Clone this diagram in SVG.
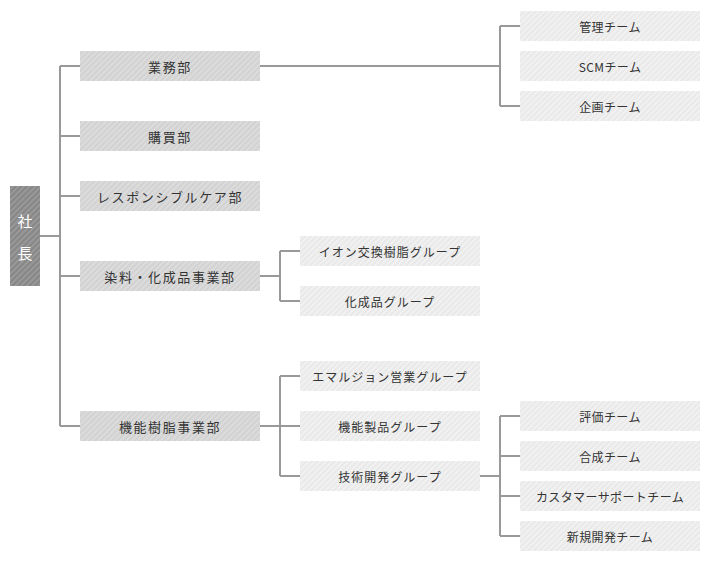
<svg xmlns="http://www.w3.org/2000/svg" width="710" height="562" viewBox="0 0 710 562">
<defs>
<pattern id="pDark" width="4" height="4" patternUnits="userSpaceOnUse" patternTransform="rotate(45)">
<rect width="4" height="4" fill="#878787"/>
<rect width="1.6" height="4" fill="#9c9c9c"/>
</pattern>
<pattern id="pMid" width="4" height="4" patternUnits="userSpaceOnUse" patternTransform="rotate(45)">
<rect width="4" height="4" fill="#d2d2d2"/>
<rect width="1.6" height="4" fill="#dedede"/>
</pattern>
<pattern id="pLight" width="4" height="4" patternUnits="userSpaceOnUse" patternTransform="rotate(45)">
<rect width="4" height="4" fill="#e9e9e9"/>
<rect width="1.6" height="4" fill="#f3f3f3"/>
</pattern>
</defs>
<style>
.conn{fill:none;stroke:#999;stroke-width:2}
.top{fill:url(#pDark)}
.l1{fill:url(#pMid)}
.l2{fill:url(#pLight)}
text{font-family:"Noto Sans CJK JP","Noto Sans",sans-serif;fill:#333;text-anchor:middle;dominant-baseline:central}
.t1{font-size:13px;letter-spacing:1.6px}
.t2{font-size:12px;letter-spacing:1px}
.t3{font-size:12px;letter-spacing:0.4px}
.tt{font-size:15px;fill:#fff}
</style>
<g id="connectors">
<path class="conn" d="M40,236H60M60,66V426M60,66H80M60,136H80M60,196H80M60,276H80M60,426H80"/>
<path class="conn" d="M260,66H500M500,26V106M500,26H520M500,106H520"/>
<path class="conn" d="M260,276H280M280,251V301M280,251H300M280,301H300"/>
<path class="conn" d="M260,426H300M280,376V476M280,376H300M280,476H300"/>
<path class="conn" d="M480,476H500M500,416V536M500,416H520M500,456H520M500,496H520M500,536H520"/>
</g>
<g id="president"><rect class="top" x="10" y="186" width="30" height="100"/><text class="tt" x="25" y="220">社</text><text class="tt" x="25" y="252">長</text></g>
<g id="gyomu"><rect class="l1" x="80" y="51" width="180" height="30"/><text class="t1" x="170" y="66">業務部</text></g>
<g id="konyu"><rect class="l1" x="80" y="121" width="180" height="30"/><text class="t1" x="170" y="136">購買部</text></g>
<g id="rc"><rect class="l1" x="80" y="181" width="180" height="30"/><text class="t1" x="170" y="196">レスポンシブルケア部</text></g>
<g id="senryo"><rect class="l1" x="80" y="261" width="180" height="30"/><text class="t1" x="170" y="276">染料・化成品事業部</text></g>
<g id="kinou"><rect class="l1" x="80" y="411" width="180" height="30"/><text class="t1" x="170" y="426">機能樹脂事業部</text></g>
<g id="kanri"><rect class="l2" x="520" y="11" width="180" height="30"/><text class="t3" x="610" y="26">管理チーム</text></g>
<g id="scm"><rect class="l2" x="520" y="51" width="180" height="30"/><text class="t3" x="610" y="66">SCMチーム</text></g>
<g id="kikaku"><rect class="l2" x="520" y="91" width="180" height="30"/><text class="t3" x="610" y="106">企画チーム</text></g>
<g id="ion"><rect class="l2" x="300" y="236" width="180" height="30"/><text class="t2" x="390" y="251">イオン交換樹脂グループ</text></g>
<g id="kasei"><rect class="l2" x="300" y="286" width="180" height="30"/><text class="t2" x="390" y="301">化成品グループ</text></g>
<g id="emul"><rect class="l2" x="300" y="361" width="180" height="30"/><text class="t2" x="390" y="376">エマルジョン営業グループ</text></g>
<g id="seihin"><rect class="l2" x="300" y="411" width="180" height="30"/><text class="t2" x="390" y="426">機能製品グループ</text></g>
<g id="gijutsu"><rect class="l2" x="300" y="461" width="180" height="30"/><text class="t2" x="390" y="476">技術開発グループ</text></g>
<g id="hyoka"><rect class="l2" x="520" y="401" width="180" height="30"/><text class="t3" x="610" y="416">評価チーム</text></g>
<g id="gosei"><rect class="l2" x="520" y="441" width="180" height="30"/><text class="t3" x="610" y="456">合成チーム</text></g>
<g id="cs"><rect class="l2" x="520" y="481" width="180" height="30"/><text class="t3" x="610" y="496">カスタマーサポートチーム</text></g>
<g id="shinki"><rect class="l2" x="520" y="521" width="180" height="30"/><text class="t3" x="610" y="536">新規開発チーム</text></g>
</svg>
